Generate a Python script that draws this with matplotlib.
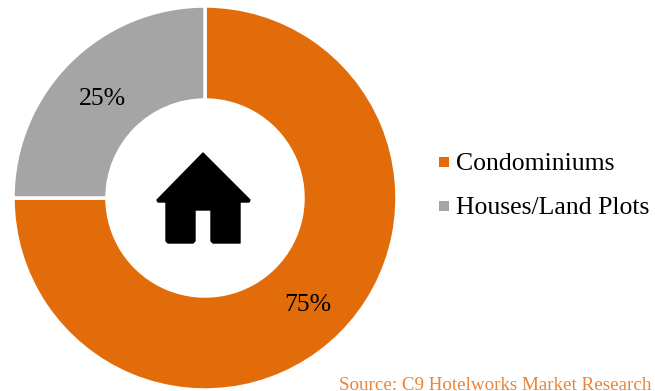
import matplotlib.pyplot as plt
from matplotlib.patches import PathPatch
from matplotlib.path import Path

categories = ['Condominiums', 'Houses/Land Plots']
shares = [75, 25]
colors = ['#E36C0A', '#A5A5A5']
source = 'Source: C9 Hotelworks Market Research'

plt.rcParams['font.family'] = ['Liberation Serif', 'DejaVu Serif']

W, H = 655, 391
fig = plt.figure(figsize=(W / 100, H / 100), dpi=100)
ax = fig.add_axes([0, 0, 1, 1])

cx, cy = 205, H - 198
radius = 192

wedges, _, pct = ax.pie(shares, colors=colors, startangle=90, counterclock=False,
                        center=(cx, cy), radius=radius,
                        autopct='%d%%', pctdistance=0.755,
                        wedgeprops=dict(width=94, edgecolor='white', linewidth=2.5),
                        textprops=dict(fontsize=18.5, color='black'))

# nudge the percentages down, the serif digits sit high otherwise
for t in pct:
    x, y = t.get_position()
    t.set_position((x, y - 4))

ax.set_xlim(0, W)
ax.set_ylim(0, H)
ax.set_aspect('equal')
ax.axis('off')

# house icon in the hole of the ring
def px(x, y):
    return (x, H - y)

house = [px(203, 153), px(250, 200), px(249, 202), px(240, 202), px(240, 243),
         px(213, 243), px(211, 241), px(211, 210), px(195, 210), px(195, 241),
         px(193, 243), px(168, 243), px(166, 241), px(166, 202), px(158, 202),
         px(157, 200), px(203, 153)]
codes = [Path.MOVETO] + [Path.LINETO] * (len(house) - 2) + [Path.CLOSEPOLY]
ax.add_patch(PathPatch(Path(house, codes), facecolor='black', edgecolor='black',
                       linewidth=1, joinstyle='round'))

for i, label in enumerate(categories):
    y = H - (162 + i * 44)
    ax.scatter([443.5], [y], marker='s', s=42, color=colors[i], linewidths=0)
    ax.text(456, y - 1.5, label, fontsize=18.5, va='center', ha='left', color='black')

ax.text(339, 1, source, fontsize=13.7, va='baseline', ha='left', color='#E9853A')

fig.savefig('out.png', dpi=100)
